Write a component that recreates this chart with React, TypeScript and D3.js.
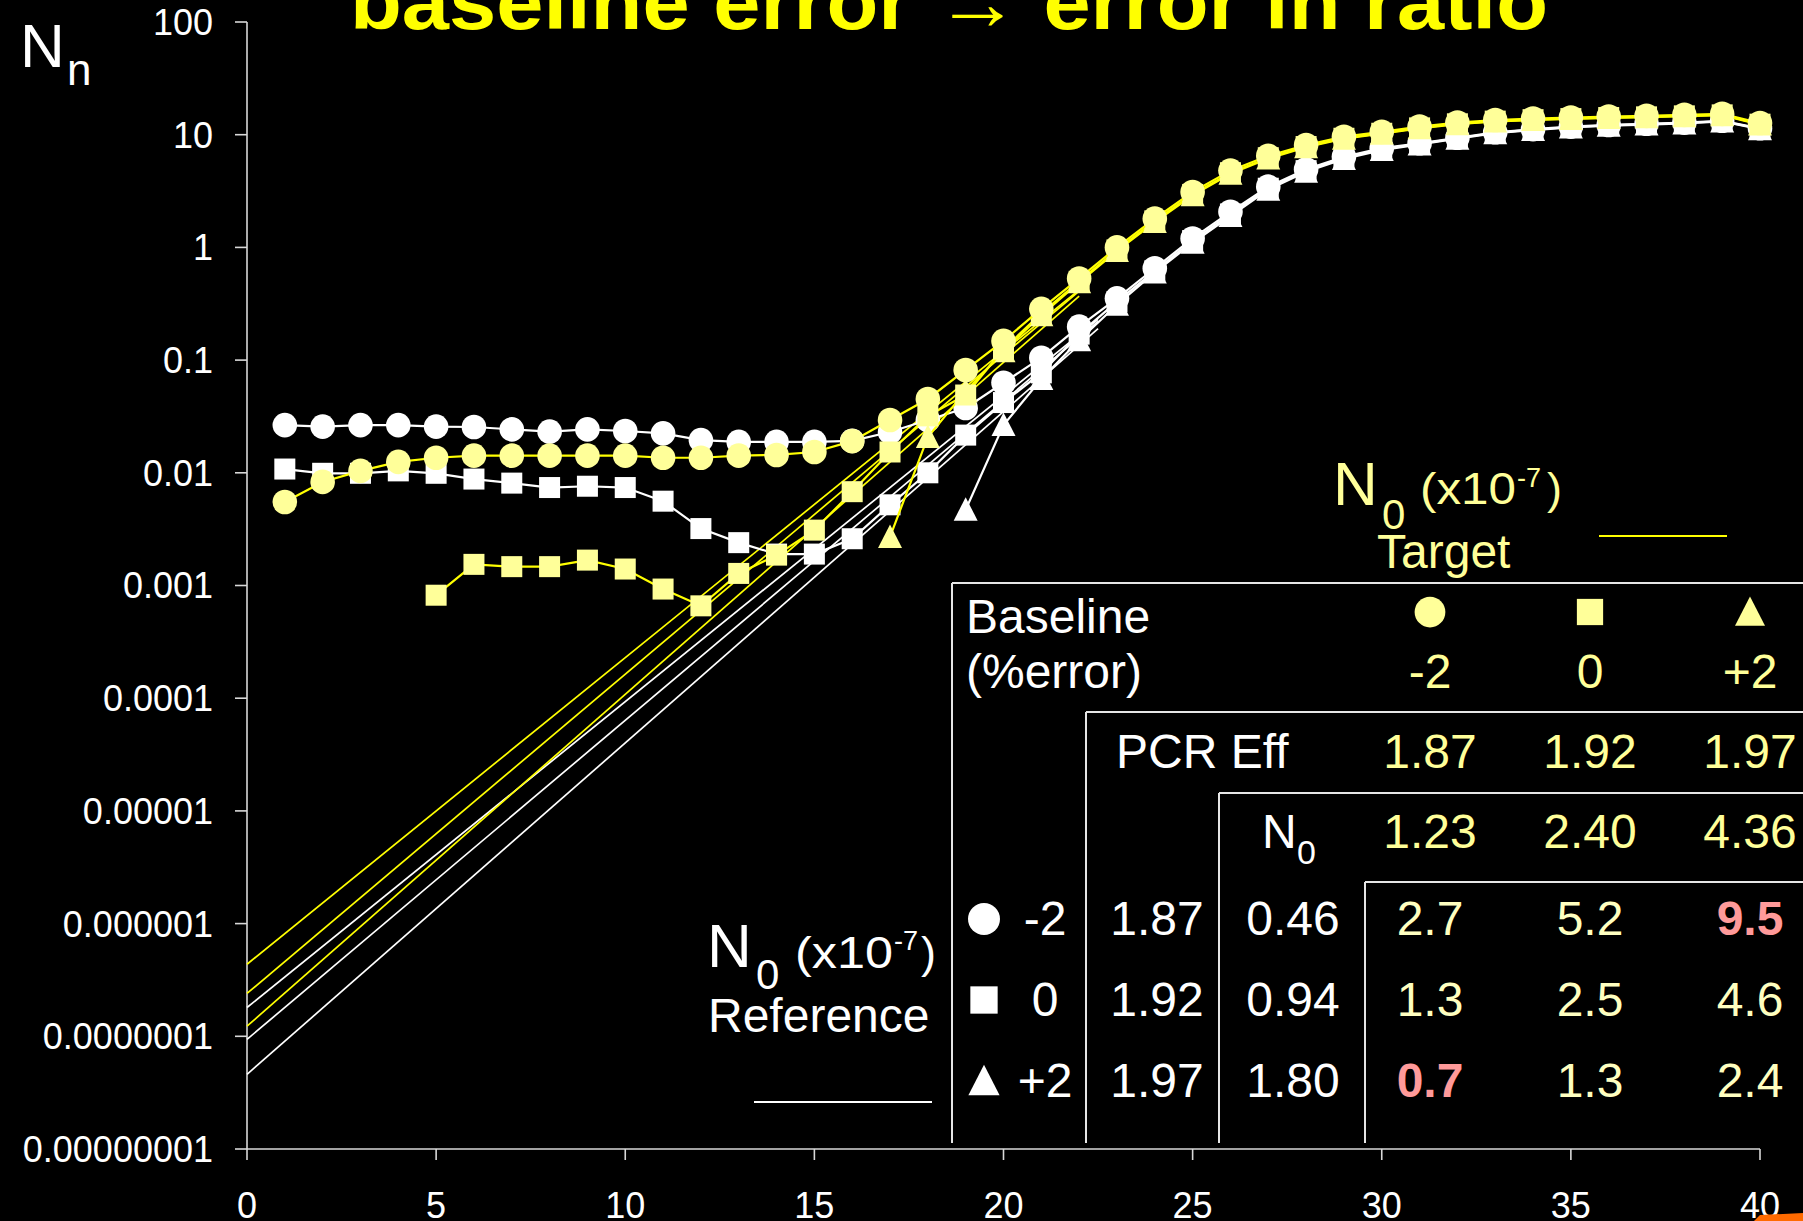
import React from "react";
import * as d3 from "d3";

// ---------- data ----------
const cycles = [1,2,3,4,5,6,7,8,9,10,11,12,13,14,15,16,17,18,19,20,21,22,23,24,25,26,27,28,29,30,31,32,33,34,35,36,37,38,39,40];

// Reference (white) series, baseline error -2 / 0 / +2
const refCircle = [0.0265,0.0257,0.0265,0.0265,0.0257,0.0255,0.0243,0.0232,0.0243,0.0235,0.0224,0.0195,0.0188,0.0188,0.0188,0.0192,0.023,0.0294,0.0376,0.063,0.105,0.198,0.353,0.653,1.2,2.07,3.46,4.93,6.38,7.6,8.4,9.4,10.5,11.2,11.8,12.2,12.5,12.8,13.3,11.4];
const refSquare = [0.0108,0.0099,0.0099,0.0104,0.0099,0.0088,0.0081,0.0074,0.0076,0.0074,0.0056,0.0032,0.0024,0.0019,0.0019,0.0026,0.0052,0.0100,0.0216,0.042,0.077,0.17,0.33,0.62,1.15,1.98,3.35,4.8,6.25,7.45,8.3,9.3,10.4,11.1,11.7,12.1,12.4,12.7,13.2,11.3];
const refTriangle = [null,null,null,null,null,null,null,null,null,null,null,null,null,null,null,null,null,null,0.0047,0.0265,0.068,0.15,0.31,0.6,1.1,1.9,3.25,4.7,6.1,7.3,8.2,9.2,10.3,11.0,11.6,12.0,12.3,12.6,13.1,11.2];

// Target (yellow) series, baseline error -2 / 0 / +2
const tgtCircle = [0.0055,0.0083,0.0104,0.0125,0.0136,0.0142,0.0142,0.0142,0.0142,0.0142,0.0136,0.0136,0.0142,0.0144,0.0153,0.0191,0.0294,0.0452,0.0817,0.148,0.285,0.53,1.0,1.8,3.1,4.8,6.5,8.1,9.6,10.6,11.8,12.8,13.5,13.9,14.2,14.5,14.7,15.0,15.3,12.7];
const tgtSquare = [null,null,null,null,0.00082,0.00154,0.00147,0.00147,0.00168,0.0014,0.00093,0.00066,0.00128,0.00186,0.0031,0.0068,0.0153,0.032,0.049,0.125,0.26,0.5,0.95,1.72,2.95,4.6,6.25,7.85,9.3,10.3,11.5,12.5,13.2,13.6,13.9,14.2,14.4,14.7,15.0,12.4];
const tgtTriangle = [null,null,null,null,null,null,null,null,null,null,null,null,null,null,null,null,0.0027,0.0208,0.053,0.12,0.25,0.49,0.93,1.68,2.9,4.5,6.15,7.75,9.2,10.2,11.4,12.4,13.1,13.5,13.8,14.1,14.3,14.6,14.9,12.3];

// straight fit lines: [startCycle, startValue, endCycle, endValue]
const tgtFits = [[0,4.36e-7,22,0.42],[0,2.40e-7,22,0.41],[0,1.23e-7,22,0.37]];
const refFits = [[0,1.80e-7,22.5,0.23],[0,0.94e-7,22.5,0.22],[0,0.46e-7,22.5,0.19]];

// axes
const xTicks = [0,5,10,15,20,25,30,35,40];
const yTicks = [100,10,1,0.1,0.01,0.001,0.0001,0.00001,0.000001,0.0000001,0.00000001];
const yTickLabels = ["100","10","1","0.1","0.01","0.001","0.0001","0.00001","0.000001","0.0000001","0.00000001"];

// table
const baselineErr = ["-2","0","+2"];
const tgtEff = ["1.87","1.92","1.97"];
const tgtN0 = ["1.23","2.40","4.36"];
const refEff = ["1.87","1.92","1.97"];
const refN0 = ["0.46","0.94","1.80"];
const ratios = [["2.7","5.2","9.5"],["1.3","2.5","4.6"],["0.7","1.3","2.4"]];
const ratioHighlight = [[false,false,true],[false,false,false],[true,false,false]];

const title = "baseline error \u2192 error in ratio";

// ---------- styling ----------
const W = 1803, H = 1221;
const FONT = "'Liberation Sans', Arial, Helvetica, sans-serif";
const LY = "#FFFF99";
const Y = "#FFFF00";
const WH = "#FFFFFF";
const PINK = "#FF9A9A";
const RATIO = "#FFFFC0";
const GRID = "#E6E6E6";

const x = d3.scaleLinear().domain([0, 40]).range([247, 1760]);
const y = d3.scaleLog().domain([1e-8, 100]).range([1149, 22]);

type Shape = "circle" | "square" | "triangle";

function Marker({ shape, cx, cy, fill, s = 1 }: { shape: Shape; cx: number; cy: number; fill: string; s?: number }) {
  if (shape === "circle") return <ellipse cx={cx} cy={cy} rx={12.3 * s} ry={12.3 * s} fill={fill} />;
  if (shape === "square") return <rect x={cx - 10.5 * s} y={cy - 10.5 * s} width={21 * s} height={21 * s} fill={fill} />;
  const hw = 12 * s, ht = 12.5 * s, hb = 11 * s;
  return <path d={`M${cx},${cy - ht}L${cx + hw},${cy + hb}L${cx - hw},${cy + hb}Z`} fill={fill} />;
}

function Series({ values, shape, lineColor, fill }: { values: (number | null)[]; shape: Shape; lineColor: string; fill: string }) {
  const pts = cycles.map((c, i) => [c, values[i]] as [number, number | null]);
  const line = d3
    .line<[number, number | null]>()
    .defined((d) => d[1] != null)
    .x((d) => x(d[0]))
    .y((d) => y(d[1] as number));
  return (
    <g>
      <path d={line(pts) || ""} fill="none" stroke={lineColor} strokeWidth={2.2} />
      {pts
        .filter((d) => d[1] != null)
        .map((d, i) => (
          <Marker key={i} shape={shape} cx={x(d[0])} cy={y(d[1] as number)} fill={fill} />
        ))}
    </g>
  );
}

function FitLines({ fits, color }: { fits: number[][]; color: string }) {
  const line = d3
    .line<[number, number]>()
    .x((d) => x(d[0]))
    .y((d) => y(d[1]));
  return (
    <g>
      {fits.map((f, i) => (
        <path key={i} d={line([[f[0], f[1]], [f[2], f[3]]]) || ""} fill="none" stroke={color} strokeWidth={1.7} />
      ))}
    </g>
  );
}

export default function App() {
  const colX = [1430, 1590, 1750];
  const rowY = [935, 1016, 1097];
  const shapes: Shape[] = ["circle", "square", "triangle"];
  return (
    <svg
      width={W}
      height={H}
      viewBox={`0 0 ${W} ${H}`}
      style={{ position: "absolute", left: 0, top: 0, background: "#000" }}
      fontFamily={FONT}
    >
      <rect x={0} y={0} width={W} height={H} fill="#000" />

      {/* title (clipped at top) */}
      <text x={350} y={29} fontSize={78} fontWeight="bold" fill={Y} textLength={1198} lengthAdjust="spacingAndGlyphs">
        {title}
      </text>

      {/* y axis label */}
      <text x={20} y={67} fontSize={62} fill={WH}>N</text>
      <text x={67} y={85} fontSize={44} fill={WH}>n</text>

      {/* axes */}
      <line x1={x(0)} x2={x(0)} y1={y(100)} y2={y(1e-8)} stroke="#D8D8D8" strokeWidth={1.6} />
      <line x1={x(0)} x2={x(40)} y1={y(1e-8)} y2={y(1e-8)} stroke="#D8D8D8" strokeWidth={1.6} />
      {yTicks.map((t, i) => (
        <g key={i}>
          <line x1={x(0) - 12} x2={x(0)} y1={y(t)} y2={y(t)} stroke="#D8D8D8" strokeWidth={1.6} />
          <text x={213} y={y(t)} dy="0.36em" textAnchor="end" fontSize={36} fill={WH}>
            {yTickLabels[i]}
          </text>
        </g>
      ))}
      {xTicks.map((t, i) => (
        <g key={i}>
          <line x1={x(t)} x2={x(t)} y1={y(1e-8)} y2={y(1e-8) + 11} stroke="#D8D8D8" strokeWidth={1.6} />
          <text x={x(t)} y={1218} textAnchor="middle" fontSize={36} fill={WH}>
            {t}
          </text>
        </g>
      ))}

      {/* fit lines */}
      <FitLines fits={refFits} color={WH} />
      <FitLines fits={tgtFits} color={Y} />

      {/* reference series */}
      <Series values={refTriangle} shape="triangle" lineColor={WH} fill={WH} />
      <Series values={refSquare} shape="square" lineColor={WH} fill={WH} />
      <Series values={refCircle} shape="circle" lineColor={WH} fill={WH} />

      {/* target series */}
      <Series values={tgtTriangle} shape="triangle" lineColor={Y} fill={LY} />
      <Series values={tgtSquare} shape="square" lineColor={Y} fill={LY} />
      <Series values={tgtCircle} shape="circle" lineColor={Y} fill={LY} />

      {/* target legend */}
      <g fill={LY}>
        <text x={1333} y={505} fontSize={62}>N</text>
        <text x={1382} y={529} fontSize={42}>0</text>
        <text x={1420} y={504} fontSize={45} textLength={96} lengthAdjust="spacingAndGlyphs">(x10</text>
        <text x={1517} y={487} fontSize={27}>-7</text>
        <text x={1547} y={504} fontSize={45}>)</text>
        <text x={1377} y={568} fontSize={48}>Target</text>
      </g>
      <line x1={1599} x2={1727} y1={536} y2={536} stroke={Y} strokeWidth={2} />

      {/* reference legend */}
      <g fill={WH}>
        <text x={707} y={967} fontSize={62}>N</text>
        <text x={756} y={989} fontSize={42}>0</text>
        <text x={795} y={968} fontSize={45} textLength={98} lengthAdjust="spacingAndGlyphs">(x10</text>
        <text x={894} y={950} fontSize={27}>-7</text>
        <text x={921} y={968} fontSize={45}>)</text>
        <text x={708} y={1032} fontSize={48}>Reference</text>
      </g>
      <line x1={754} x2={932} y1={1102} y2={1102} stroke={WH} strokeWidth={2} />

      {/* table grid */}
      <g stroke={GRID} strokeWidth={2}>
        <line x1={952} x2={1803} y1={583} y2={583} />
        <line x1={952} x2={952} y1={583} y2={1143} />
        <line x1={1086} x2={1803} y1={712} y2={712} />
        <line x1={1086} x2={1086} y1={712} y2={1143} />
        <line x1={1219} x2={1803} y1={793} y2={793} />
        <line x1={1219} x2={1219} y1={793} y2={1143} />
        <line x1={1365} x2={1803} y1={882} y2={882} />
        <line x1={1365} x2={1365} y1={882} y2={1143} />
      </g>

      {/* table header */}
      <text x={966} y={633} fontSize={48} fill={WH}>Baseline</text>
      <text x={966} y={688} fontSize={48} fill={WH}>(%error)</text>
      {shapes.map((s, i) => (
        <Marker key={i} shape={s} cx={colX[i]} cy={612} fill={LY} s={1.25} />
      ))}
      {baselineErr.map((b, i) => (
        <text key={i} x={colX[i]} y={688} fontSize={48} fill={LY} textAnchor="middle">{b}</text>
      ))}

      <text x={1116} y={768} fontSize={48} fill={WH}>PCR Eff</text>
      {tgtEff.map((v, i) => (
        <text key={i} x={colX[i]} y={768} fontSize={48} fill={LY} textAnchor="middle">{v}</text>
      ))}

      <text x={1262} y={848} fontSize={48} fill={WH}>N</text>
      <text x={1297} y={864} fontSize={34} fill={WH}>0</text>
      {tgtN0.map((v, i) => (
        <text key={i} x={colX[i]} y={848} fontSize={48} fill={LY} textAnchor="middle">{v}</text>
      ))}

      {/* table rows */}
      {rowY.map((ry, r) => (
        <g key={r}>
          <Marker shape={shapes[r]} cx={984} cy={ry - 16} fill={WH} s={1.3} />
          <text x={1045} y={ry} fontSize={48} fill={WH} textAnchor="middle">{baselineErr[r]}</text>
          <text x={1157} y={ry} fontSize={48} fill={WH} textAnchor="middle">{refEff[r]}</text>
          <text x={1293} y={ry} fontSize={48} fill={WH} textAnchor="middle">{refN0[r]}</text>
          {ratios[r].map((v, c) => (
            <text
              key={c}
              x={colX[c]}
              y={ry}
              fontSize={48}
              textAnchor="middle"
              fill={ratioHighlight[r][c] ? PINK : RATIO}
              fontWeight={ratioHighlight[r][c] ? "bold" : "normal"}
            >
              {v}
            </text>
          ))}
        </g>
      ))}

      {/* corner decoration */}
      <path d="M1754,1221L1760,1215L1803,1213L1803,1221Z" fill="#FF6A00" />
    </svg>
  );
}
